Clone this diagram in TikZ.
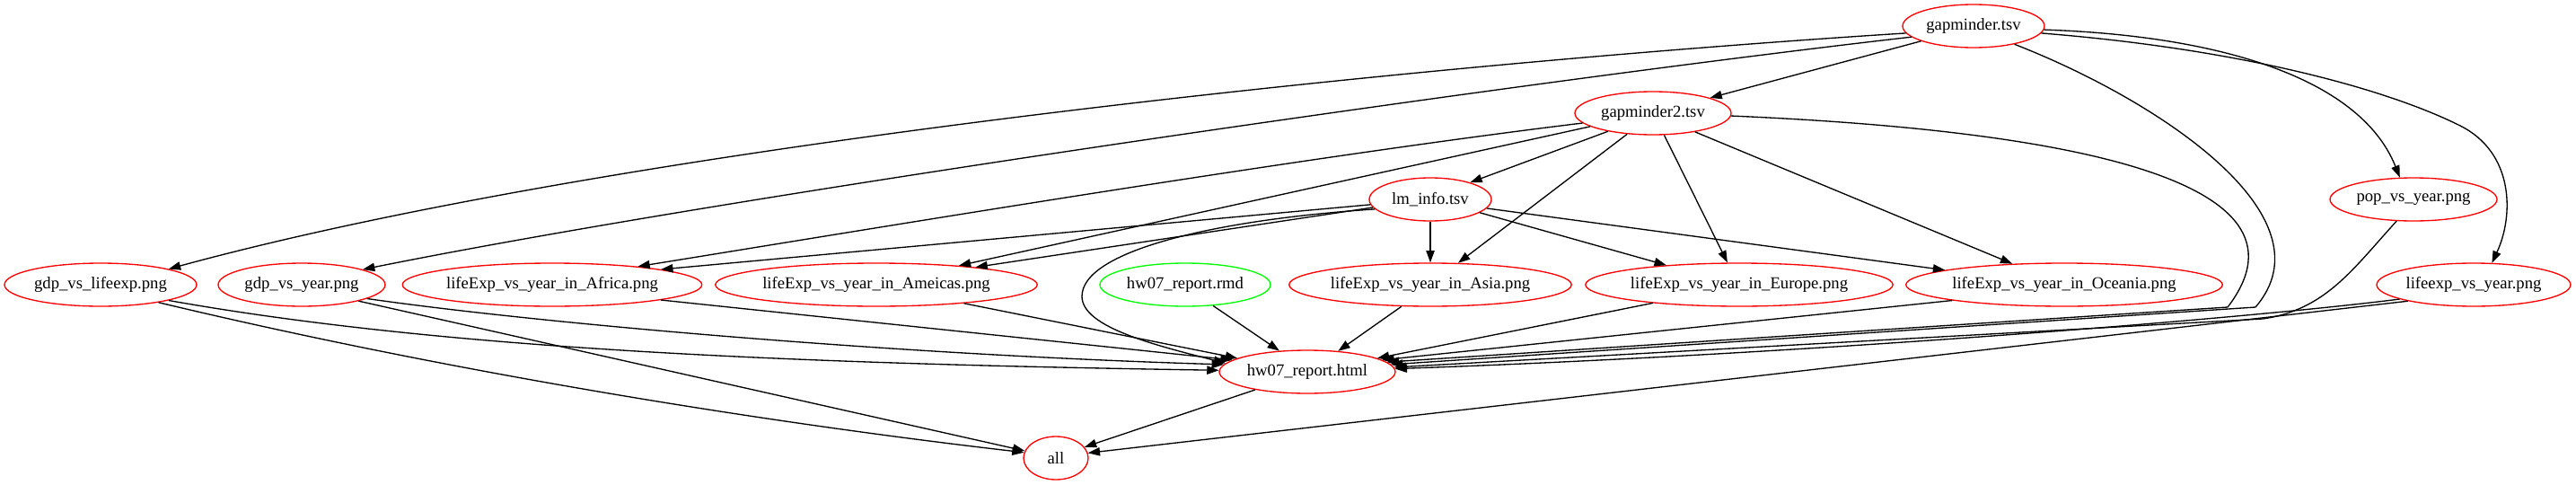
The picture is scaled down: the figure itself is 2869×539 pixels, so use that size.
\documentclass[tikz,border=0pt]{standalone}
\usepackage{fontspec}
\setmainfont{Liberation Serif}
\usetikzlibrary{shapes.geometric,arrows.meta}
\begin{document}
\begin{tikzpicture}[x=0.75pt,y=-0.75pt,
  nd/.style={ellipse,draw=red,line width=1pt,inner sep=0pt,minimum height=36pt,font=\fontsize{14pt}{16pt}\selectfont},
  w/.style={minimum width=#1*1.5pt},
  ed/.style={line width=1pt,-{Triangle[length=10pt,width=7pt]}},
]
\useasboundingbox[fill=white] (0,0) rectangle (2869,539);
\node[nd,w=79] (gm) at (2198,29) {gapminder.tsv};
\node[nd,w=87] (gm2) at (1841,126) {gapminder2.tsv};
\node[nd,w=68] (lm) at (1593,222) {lm\_info.tsv};
\node[nd,w=93] (pop) at (2688,222) {pop\_vs\_year.png};
\node[nd,w=107] (gle) at (112,317) {gdp\_vs\_lifeexp.png};
\node[nd,w=93] (gy) at (336,317) {gdp\_vs\_year.png};
\node[nd,w=161] (af) at (615,317) {lifeExp\_vs\_year\_in\_Africa.png};
\node[nd,w=174] (am) at (976,317) {lifeExp\_vs\_year\_in\_Ameicas.png};
\node[nd,w=95,draw=green] (rmd) at (1320,317) {hw07\_report.rmd};
\node[nd,w=154] (as) at (1593,317) {lifeExp\_vs\_year\_in\_Asia.png};
\node[nd,w=166] (eu) at (1937,317) {lifeExp\_vs\_year\_in\_Europe.png};
\node[nd,w=171] (oc) at (2299,317) {lifeExp\_vs\_year\_in\_Oceania.png};
\node[nd,w=108] (ley) at (2755,317) {lifeexp\_vs\_year.png};
\node[nd,w=98] (html) at (1456,414) {hw07\_report.html};
\node[nd,w=36] (all) at (1176,510) {all};

\coordinate (k1) at (2512,342);
\coordinate (k2) at (2481,342);
\coordinate (k3) at (2740,140);
\coordinate (k4) at (1205,330);
\coordinate (k5) at (2520,355);

\draw[ed] (gm.186) .. controls (1600,70) and (700,160) .. (gle.13);
\draw[ed] (gm.190) .. controls (1700,90) and (800,220) .. (gy.14);
\draw[ed] (gm.196) -- (gm2.15);
\draw[ed] (gm.336) .. controls (2400,110) and (2600,240) .. (k1) -- (html.5);
\draw[ed] (gm2.358) .. controls (2300,145) and (2590,200) .. (k2) -- (html.7);
\draw[ed] (gm.357) .. controls (2480,40) and (2630,90) .. (pop.122);
\draw[ed] (gm.354) .. controls (2500,55) and (2660,100) .. (k3) .. controls (2800,170) and (2800,240) .. (ley.50);

\draw[ed] (gm2.188) .. controls (1450,175) and (1000,250) .. (af.12);
\draw[ed] (gm2.192) -- (am.13);
\draw[ed] (gm2.202) -- (lm.23);
\draw[ed] (gm2.219) -- (as.38);
\draw[ed] (gm2.297) -- (eu.118);
\draw[ed] (gm2.336) -- (oc.158);

\draw[ed] (lm.185) -- (af.8);
\draw[ed] (lm.188) -- (am.10);
\draw[ed] (lm.190) .. controls (1350,245) and (1205,280) .. (k4) .. controls (1205,365) and (1290,385) .. (html.174);
\draw[ed] (lm) -- (as);
\draw[ed] (lm.345) -- (eu.165);
\draw[ed] (lm.351) -- (oc.173);

\draw[ed] (gle.347) .. controls (500,390) and (900,405) .. (html.179);
\draw[ed] (gle.343) .. controls (491,412) and (840,469) .. (all.170);
\draw[ed] (gy.348) .. controls (600,360) and (1000,395) .. (html.175);
\draw[ed] (gy.344) -- (all.167);
\draw[ed] (af.352) -- (html.171);
\draw[ed] (am.348) -- (html.169);
\draw[ed] (rmd.323) -- (html.143);
\draw[ed] (as.217) -- (html.34);
\draw[ed] (eu.192) -- (html.11);
\draw[ed] (oc.188) -- (html.9);
\draw[ed] (pop.232) .. controls (2620,300) and (2590,345) .. (k5) -- (html.3);
\draw[ed] (ley.191) .. controls (2500,355) and (2000,395) .. (html.2);
\draw[ed] (ley.194) -- (all.9);
\draw[ed] (html.199) -- (all.21);
\end{tikzpicture}
\end{document}
